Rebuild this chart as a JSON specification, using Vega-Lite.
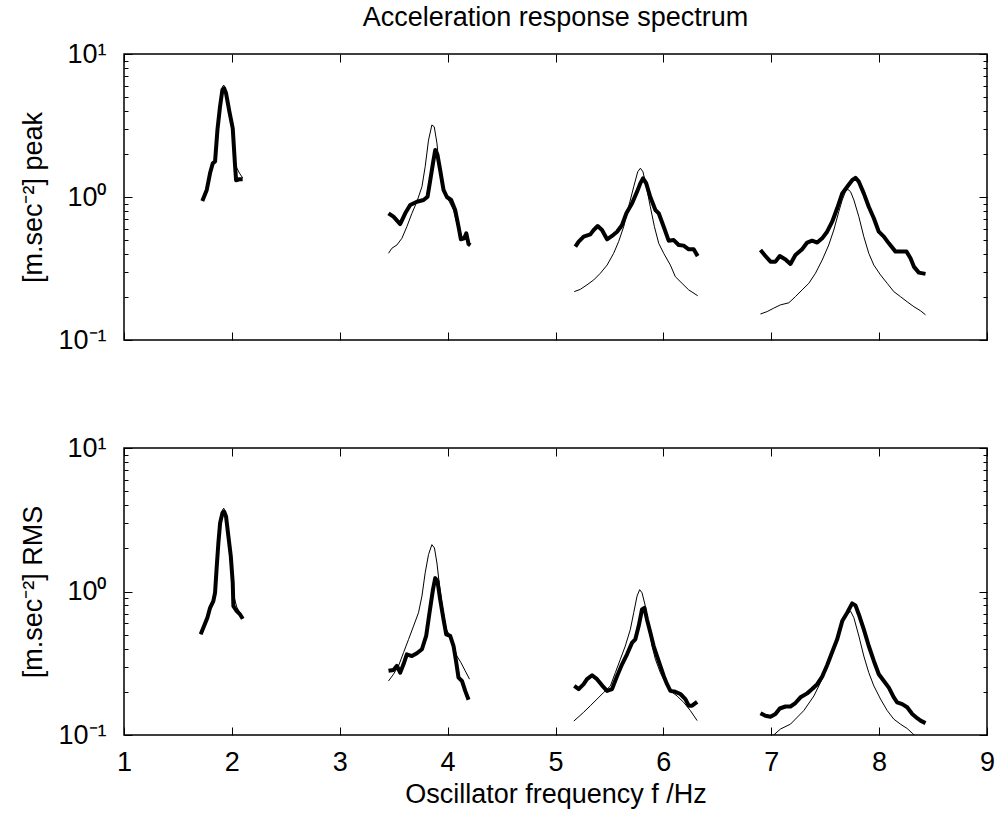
{
  "$schema": "https://vega.github.io/schema/vega-lite/v6.json",
  "autosize": {"type": "pad"},
  "padding": {"left": 19, "top": 3, "right": 14, "bottom": 10},
  "background": "white",
  "config": {
    "font": "Liberation Sans",
    "view": {"stroke": "black", "strokeWidth": 1.5},
    "axis": {"grid": false, "domain": false, "tickColor": "black", "labelColor": "black", "titleColor": "black", "labelFontSize": 27, "titleFontSize": 27, "titleFontWeight": "normal", "labelOverlap": false, "labelFlush": false, "tickWidth": 1}
  },
  "datasets": {
    "peakThick": [
      {"s":1,"f":1.726,"a":0.937},{"s":1,"f":1.767,"a":1.12},{"s":1,"f":1.798,"a":1.47},{"s":1,"f":1.823,"a":1.72},{"s":1,"f":1.844,"a":1.77},{"s":1,"f":1.866,"a":2.94},{"s":1,"f":1.89,"a":4.28},{"s":1,"f":1.912,"a":5.6},{"s":1,"f":1.928,"a":5.76},{"s":1,"f":1.946,"a":5.31},{"s":1,"f":1.977,"a":3.95},{"s":1,"f":2.008,"a":3.02},{"s":1,"f":2.03,"a":1.63},{"s":1,"f":2.039,"a":1.31},{"s":1,"f":2.07,"a":1.33},{"s":1,"f":2.1,"a":1.33},
      {"s":2,"f":3.452,"a":0.769},{"s":2,"f":3.498,"a":0.728},{"s":2,"f":3.56,"a":0.647},{"s":2,"f":3.607,"a":0.769},{"s":2,"f":3.653,"a":0.879},{"s":2,"f":3.715,"a":0.927},{"s":2,"f":3.777,"a":0.953},{"s":2,"f":3.814,"a":1.005},{"s":2,"f":3.839,"a":1.31},{"s":2,"f":3.864,"a":1.72},{"s":2,"f":3.885,"a":2.13},{"s":2,"f":3.906,"a":1.97},{"s":2,"f":3.931,"a":1.54},{"s":2,"f":3.962,"a":1.12},{"s":2,"f":3.993,"a":1.0},{"s":2,"f":4.033,"a":0.953},{"s":2,"f":4.07,"a":0.811},{"s":2,"f":4.101,"a":0.62},{"s":2,"f":4.123,"a":0.506},{"s":2,"f":4.154,"a":0.514},{"s":2,"f":4.173,"a":0.557},{"s":2,"f":4.194,"a":0.469},{"s":2,"f":4.21,"a":0.459},
      {"s":3,"f":5.184,"a":0.449},{"s":3,"f":5.215,"a":0.487},{"s":3,"f":5.261,"a":0.528},{"s":3,"f":5.323,"a":0.548},{"s":3,"f":5.354,"a":0.588},{"s":3,"f":5.391,"a":0.627},{"s":3,"f":5.431,"a":0.588},{"s":3,"f":5.478,"a":0.506},{"s":3,"f":5.524,"a":0.534},{"s":3,"f":5.571,"a":0.572},{"s":3,"f":5.617,"a":0.637},{"s":3,"f":5.657,"a":0.769},{"s":3,"f":5.71,"a":0.904},{"s":3,"f":5.756,"a":1.09},{"s":3,"f":5.787,"a":1.25},{"s":3,"f":5.811,"a":1.35},{"s":3,"f":5.84,"a":1.25},{"s":3,"f":5.879,"a":1.0},{"s":3,"f":5.926,"a":0.811},{"s":3,"f":5.957,"a":0.769},{"s":3,"f":6.003,"a":0.62},{"s":3,"f":6.049,"a":0.495},{"s":3,"f":6.096,"a":0.5},{"s":3,"f":6.142,"a":0.462},{"s":3,"f":6.188,"a":0.457},{"s":3,"f":6.235,"a":0.431},{"s":3,"f":6.281,"a":0.431},{"s":3,"f":6.318,"a":0.386},
      {"s":4,"f":6.9,"a":0.426},{"s":4,"f":6.946,"a":0.387},{"s":4,"f":6.993,"a":0.353},{"s":4,"f":7.039,"a":0.353},{"s":4,"f":7.079,"a":0.387},{"s":4,"f":7.132,"a":0.366},{"s":4,"f":7.178,"a":0.34},{"s":4,"f":7.224,"a":0.393},{"s":4,"f":7.286,"a":0.431},{"s":4,"f":7.333,"a":0.48},{"s":4,"f":7.379,"a":0.495},{"s":4,"f":7.426,"a":0.48},{"s":4,"f":7.472,"a":0.514},{"s":4,"f":7.518,"a":0.572},{"s":4,"f":7.565,"a":0.672},{"s":4,"f":7.611,"a":0.834},{"s":4,"f":7.658,"a":1.06},{"s":4,"f":7.704,"a":1.18},{"s":4,"f":7.75,"a":1.31},{"s":4,"f":7.781,"a":1.36},{"s":4,"f":7.812,"a":1.28},{"s":4,"f":7.858,"a":1.06},{"s":4,"f":7.904,"a":0.855},{"s":4,"f":7.951,"a":0.71},{"s":4,"f":7.997,"a":0.572},{"s":4,"f":8.044,"a":0.528},{"s":4,"f":8.09,"a":0.474},{"s":4,"f":8.152,"a":0.415},{"s":4,"f":8.198,"a":0.415},{"s":4,"f":8.254,"a":0.415},{"s":4,"f":8.291,"a":0.373},{"s":4,"f":8.322,"a":0.326},{"s":4,"f":8.368,"a":0.296},{"s":4,"f":8.43,"a":0.29}
    ],
    "peakThin": [
      {"s":1,"f":1.726,"a":0.94},{"s":1,"f":1.767,"a":1.12},{"s":1,"f":1.798,"a":1.47},{"s":1,"f":1.823,"a":1.72},{"s":1,"f":1.844,"a":1.8},{"s":1,"f":1.866,"a":3.0},{"s":1,"f":1.89,"a":4.5},{"s":1,"f":1.912,"a":5.9},{"s":1,"f":1.925,"a":6.07},{"s":1,"f":1.94,"a":5.6},{"s":1,"f":1.977,"a":4.0},{"s":1,"f":2.008,"a":3.0},{"s":1,"f":2.03,"a":1.75},{"s":1,"f":2.045,"a":1.6},{"s":1,"f":2.07,"a":1.47},{"s":1,"f":2.1,"a":1.36},
      {"s":2,"f":3.452,"a":0.404},{"s":2,"f":3.483,"a":0.438},{"s":2,"f":3.53,"a":0.462},{"s":2,"f":3.576,"a":0.514},{"s":2,"f":3.622,"a":0.62},{"s":2,"f":3.669,"a":0.769},{"s":2,"f":3.715,"a":0.927},{"s":2,"f":3.762,"a":1.18},{"s":2,"f":3.792,"a":1.63},{"s":2,"f":3.823,"a":2.5},{"s":2,"f":3.854,"a":3.19},{"s":2,"f":3.876,"a":3.1},{"s":2,"f":3.901,"a":2.38},{"s":2,"f":3.925,"a":1.54},{"s":2,"f":3.962,"a":1.12},{"s":2,"f":4.008,"a":0.953},{"s":2,"f":4.055,"a":0.811},{"s":2,"f":4.086,"a":0.655},{"s":2,"f":4.11,"a":0.557},{"s":2,"f":4.148,"a":0.514},{"s":2,"f":4.179,"a":0.5},{"s":2,"f":4.21,"a":0.474},
      {"s":3,"f":5.174,"a":0.218},{"s":3,"f":5.23,"a":0.226},{"s":3,"f":5.292,"a":0.243},{"s":3,"f":5.354,"a":0.263},{"s":3,"f":5.416,"a":0.293},{"s":3,"f":5.478,"a":0.334},{"s":3,"f":5.539,"a":0.404},{"s":3,"f":5.585,"a":0.487},{"s":3,"f":5.632,"a":0.62},{"s":3,"f":5.678,"a":0.855},{"s":3,"f":5.725,"a":1.18},{"s":3,"f":5.762,"a":1.5},{"s":3,"f":5.787,"a":1.59},{"s":3,"f":5.811,"a":1.5},{"s":3,"f":5.842,"a":1.18},{"s":3,"f":5.879,"a":0.855},{"s":3,"f":5.917,"a":0.62},{"s":3,"f":5.957,"a":0.474},{"s":3,"f":6.003,"a":0.404},{"s":3,"f":6.065,"a":0.334},{"s":3,"f":6.111,"a":0.277},{"s":3,"f":6.173,"a":0.249},{"s":3,"f":6.235,"a":0.224},{"s":3,"f":6.318,"a":0.204},
      {"s":4,"f":6.9,"a":0.152},{"s":4,"f":6.962,"a":0.158},{"s":4,"f":7.023,"a":0.167},{"s":4,"f":7.085,"a":0.176},{"s":4,"f":7.163,"a":0.182},{"s":4,"f":7.224,"a":0.201},{"s":4,"f":7.286,"a":0.224},{"s":4,"f":7.348,"a":0.249},{"s":4,"f":7.41,"a":0.293},{"s":4,"f":7.472,"a":0.362},{"s":4,"f":7.533,"a":0.462},{"s":4,"f":7.58,"a":0.588},{"s":4,"f":7.626,"a":0.789},{"s":4,"f":7.658,"a":0.953},{"s":4,"f":7.688,"a":1.09},{"s":4,"f":7.71,"a":1.13},{"s":4,"f":7.735,"a":1.09},{"s":4,"f":7.766,"a":0.953},{"s":4,"f":7.812,"a":0.728},{"s":4,"f":7.858,"a":0.528},{"s":4,"f":7.904,"a":0.404},{"s":4,"f":7.951,"a":0.334},{"s":4,"f":8.013,"a":0.285},{"s":4,"f":8.075,"a":0.249},{"s":4,"f":8.136,"a":0.218},{"s":4,"f":8.198,"a":0.201},{"s":4,"f":8.26,"a":0.185},{"s":4,"f":8.322,"a":0.171},{"s":4,"f":8.384,"a":0.16},{"s":4,"f":8.43,"a":0.15}
    ],
    "rmsThick": [
      {"s":1,"f":1.711,"a":0.503},{"s":1,"f":1.742,"a":0.574},{"s":1,"f":1.773,"a":0.656},{"s":1,"f":1.798,"a":0.77},{"s":1,"f":1.828,"a":0.857},{"s":1,"f":1.844,"a":0.98},{"s":1,"f":1.86,"a":1.5},{"s":1,"f":1.875,"a":2.18},{"s":1,"f":1.891,"a":3.0},{"s":1,"f":1.912,"a":3.52},{"s":1,"f":1.928,"a":3.61},{"s":1,"f":1.946,"a":3.33},{"s":1,"f":1.968,"a":2.42},{"s":1,"f":1.99,"a":1.76},{"s":1,"f":2.008,"a":1.15},{"s":1,"f":2.014,"a":0.79},{"s":1,"f":2.045,"a":0.73},{"s":1,"f":2.076,"a":0.692},{"s":1,"f":2.101,"a":0.646},
      {"s":2,"f":3.452,"a":0.28},{"s":2,"f":3.498,"a":0.284},{"s":2,"f":3.53,"a":0.303},{"s":2,"f":3.56,"a":0.272},{"s":2,"f":3.591,"a":0.311},{"s":2,"f":3.622,"a":0.365},{"s":2,"f":3.669,"a":0.355},{"s":2,"f":3.715,"a":0.371},{"s":2,"f":3.762,"a":0.396},{"s":2,"f":3.801,"a":0.49},{"s":2,"f":3.832,"a":0.711},{"s":2,"f":3.864,"a":1.03},{"s":2,"f":3.885,"a":1.24},{"s":2,"f":3.906,"a":1.18},{"s":2,"f":3.931,"a":0.88},{"s":2,"f":3.962,"a":0.639},{"s":2,"f":3.987,"a":0.503},{"s":2,"f":4.024,"a":0.49},{"s":2,"f":4.055,"a":0.417},{"s":2,"f":4.08,"a":0.32},{"s":2,"f":4.101,"a":0.251},{"s":2,"f":4.133,"a":0.238},{"s":2,"f":4.163,"a":0.203},{"s":2,"f":4.194,"a":0.176},
      {"s":3,"f":5.174,"a":0.22},{"s":3,"f":5.215,"a":0.209},{"s":3,"f":5.261,"a":0.226},{"s":3,"f":5.292,"a":0.245},{"s":3,"f":5.339,"a":0.261},{"s":3,"f":5.385,"a":0.245},{"s":3,"f":5.431,"a":0.222},{"s":3,"f":5.478,"a":0.203},{"s":3,"f":5.524,"a":0.209},{"s":3,"f":5.571,"a":0.258},{"s":3,"f":5.617,"a":0.311},{"s":3,"f":5.663,"a":0.365},{"s":3,"f":5.71,"a":0.44},{"s":3,"f":5.74,"a":0.464},{"s":3,"f":5.771,"a":0.574},{"s":3,"f":5.802,"a":0.75},{"s":3,"f":5.824,"a":0.77},{"s":3,"f":5.848,"a":0.639},{"s":3,"f":5.879,"a":0.517},{"s":3,"f":5.91,"a":0.417},{"s":3,"f":5.941,"a":0.355},{"s":3,"f":5.972,"a":0.303},{"s":3,"f":6.003,"a":0.258},{"s":3,"f":6.034,"a":0.226},{"s":3,"f":6.065,"a":0.203},{"s":3,"f":6.111,"a":0.2},{"s":3,"f":6.158,"a":0.193},{"s":3,"f":6.204,"a":0.178},{"s":3,"f":6.235,"a":0.16},{"s":3,"f":6.266,"a":0.16},{"s":3,"f":6.313,"a":0.17},
      {"s":4,"f":6.9,"a":0.142},{"s":4,"f":6.946,"a":0.136},{"s":4,"f":6.993,"a":0.134},{"s":4,"f":7.039,"a":0.14},{"s":4,"f":7.079,"a":0.153},{"s":4,"f":7.132,"a":0.158},{"s":4,"f":7.178,"a":0.158},{"s":4,"f":7.224,"a":0.167},{"s":4,"f":7.271,"a":0.183},{"s":4,"f":7.333,"a":0.195},{"s":4,"f":7.379,"a":0.209},{"s":4,"f":7.426,"a":0.226},{"s":4,"f":7.472,"a":0.255},{"s":4,"f":7.518,"a":0.306},{"s":4,"f":7.565,"a":0.379},{"s":4,"f":7.611,"a":0.464},{"s":4,"f":7.658,"a":0.622},{"s":4,"f":7.704,"a":0.711},{"s":4,"f":7.75,"a":0.826},{"s":4,"f":7.781,"a":0.8},{"s":4,"f":7.812,"a":0.692},{"s":4,"f":7.858,"a":0.545},{"s":4,"f":7.904,"a":0.417},{"s":4,"f":7.951,"a":0.328},{"s":4,"f":7.997,"a":0.265},{"s":4,"f":8.044,"a":0.238},{"s":4,"f":8.09,"a":0.214},{"s":4,"f":8.136,"a":0.183},{"s":4,"f":8.167,"a":0.169},{"s":4,"f":8.214,"a":0.164},{"s":4,"f":8.26,"a":0.156},{"s":4,"f":8.307,"a":0.14},{"s":4,"f":8.353,"a":0.131},{"s":4,"f":8.384,"a":0.126},{"s":4,"f":8.43,"a":0.121}
    ],
    "rmsThin": [
      {"s":1,"f":1.711,"a":0.503},{"s":1,"f":1.742,"a":0.574},{"s":1,"f":1.773,"a":0.656},{"s":1,"f":1.798,"a":0.77},{"s":1,"f":1.828,"a":0.857},{"s":1,"f":1.844,"a":1.0},{"s":1,"f":1.86,"a":1.55},{"s":1,"f":1.875,"a":2.3},{"s":1,"f":1.891,"a":3.2},{"s":1,"f":1.912,"a":3.7},{"s":1,"f":1.925,"a":3.81},{"s":1,"f":1.946,"a":3.4},{"s":1,"f":1.968,"a":2.5},{"s":1,"f":1.99,"a":1.8},{"s":1,"f":2.008,"a":1.2},{"s":1,"f":2.02,"a":0.92},{"s":1,"f":2.045,"a":0.78},{"s":1,"f":2.076,"a":0.71},{"s":1,"f":2.101,"a":0.65},
      {"s":2,"f":3.452,"a":0.238},{"s":2,"f":3.498,"a":0.265},{"s":2,"f":3.545,"a":0.303},{"s":2,"f":3.591,"a":0.375},{"s":2,"f":3.638,"a":0.464},{"s":2,"f":3.684,"a":0.574},{"s":2,"f":3.73,"a":0.711},{"s":2,"f":3.762,"a":0.929},{"s":2,"f":3.792,"a":1.35},{"s":2,"f":3.823,"a":1.81},{"s":2,"f":3.854,"a":2.12},{"s":2,"f":3.878,"a":2.01},{"s":2,"f":3.901,"a":1.58},{"s":2,"f":3.925,"a":1.09},{"s":2,"f":3.956,"a":0.75},{"s":2,"f":3.987,"a":0.545},{"s":2,"f":4.024,"a":0.49},{"s":2,"f":4.055,"a":0.417},{"s":2,"f":4.086,"a":0.355},{"s":2,"f":4.123,"a":0.32},{"s":2,"f":4.163,"a":0.28},{"s":2,"f":4.203,"a":0.245},
      {"s":3,"f":5.17,"a":0.125},{"s":3,"f":5.261,"a":0.144},{"s":3,"f":5.323,"a":0.16},{"s":3,"f":5.385,"a":0.178},{"s":3,"f":5.447,"a":0.198},{"s":3,"f":5.509,"a":0.22},{"s":3,"f":5.555,"a":0.272},{"s":3,"f":5.601,"a":0.337},{"s":3,"f":5.647,"a":0.417},{"s":3,"f":5.694,"a":0.545},{"s":3,"f":5.725,"a":0.711},{"s":3,"f":5.756,"a":0.929},{"s":3,"f":5.78,"a":1.03},{"s":3,"f":5.802,"a":0.98},{"s":3,"f":5.833,"a":0.79},{"s":3,"f":5.864,"a":0.574},{"s":3,"f":5.895,"a":0.417},{"s":3,"f":5.926,"a":0.337},{"s":3,"f":5.972,"a":0.272},{"s":3,"f":6.019,"a":0.232},{"s":3,"f":6.065,"a":0.203},{"s":3,"f":6.127,"a":0.187},{"s":3,"f":6.188,"a":0.169},{"s":3,"f":6.25,"a":0.148},{"s":3,"f":6.313,"a":0.126},
      {"s":4,"f":6.9,"a":0.085},{"s":4,"f":6.96,"a":0.092},{"s":4,"f":7.023,"a":0.1},{"s":4,"f":7.085,"a":0.11},{"s":4,"f":7.178,"a":0.119},{"s":4,"f":7.302,"a":0.148},{"s":4,"f":7.395,"a":0.187},{"s":4,"f":7.472,"a":0.245},{"s":4,"f":7.533,"a":0.32},{"s":4,"f":7.595,"a":0.428},{"s":4,"f":7.641,"a":0.574},{"s":4,"f":7.688,"a":0.674},{"s":4,"f":7.735,"a":0.73},{"s":4,"f":7.766,"a":0.656},{"s":4,"f":7.812,"a":0.49},{"s":4,"f":7.858,"a":0.355},{"s":4,"f":7.904,"a":0.272},{"s":4,"f":7.951,"a":0.22},{"s":4,"f":8.013,"a":0.178},{"s":4,"f":8.075,"a":0.148},{"s":4,"f":8.136,"a":0.129},{"s":4,"f":8.198,"a":0.119},{"s":4,"f":8.26,"a":0.111},{"s":4,"f":8.307,"a":0.103},{"s":4,"f":8.35,"a":0.096},{"s":4,"f":8.43,"a":0.088}
    ]
  },
  "vconcat": [
    {
      "width": 863,
      "height": 286,
      "title": {"text": "Acceleration response spectrum", "fontSize": 27, "fontWeight": "normal", "anchor": "middle", "frame": "group", "offset": 8, "color": "black"},
      "layer": [
        {
          "data": {"name": "peakThick"},
          "mark": {"type": "line", "color": "black", "strokeWidth": 4, "strokeJoin": "round", "clip": true},
          "encoding": {
            "x": {"field": "f", "type": "quantitative", "scale": {"domain": [1, 9], "nice": false, "zero": false},
                  "axis": {"orient": "bottom", "values": [1,2,3,4,5,6,7,8,9], "labels": false, "tickSize": -8, "title": null}},
            "y": {"field": "a", "type": "quantitative", "scale": {"type": "log", "domain": [0.1, 10], "nice": false},
                  "axis": {"orient": "left", "values": [0.1,0.2,0.3,0.4,0.5,0.6,0.7,0.8,0.9,1,2,3,4,5,6,7,8,9,10],
                           "labelExpr": "abs(datum.value-10)<1e-6 ? '10¹' : abs(datum.value-1)<1e-6 ? '10⁰' : abs(datum.value-0.1)<1e-6 ? '10⁻¹' : ''",
                           "tickSize": {"condition": {"test": "abs(datum.value-10)<1e-6 || abs(datum.value-1)<1e-6 || abs(datum.value-0.1)<1e-6", "value": -8}, "value": -4},
                           "labelPadding": 26, "title": "[m.sec⁻²] peak", "titlePadding": 10}},
            "detail": {"field": "s", "type": "nominal"}
          }
        },
        {
          "data": {"name": "peakThin"},
          "mark": {"type": "line", "color": "black", "strokeWidth": 1, "clip": true},
          "encoding": {
            "x": {"field": "f", "type": "quantitative", "scale": {"domain": [1, 9], "nice": false, "zero": false},
                  "axis": {"orient": "top", "values": [1,2,3,4,5,6,7,8,9], "labels": false, "tickSize": -8, "title": null}},
            "y": {"field": "a", "type": "quantitative", "scale": {"type": "log", "domain": [0.1, 10], "nice": false},
                  "axis": {"orient": "right", "values": [0.1,0.2,0.3,0.4,0.5,0.6,0.7,0.8,0.9,1,2,3,4,5,6,7,8,9,10], "labels": false,
                           "tickSize": {"condition": {"test": "abs(datum.value-10)<1e-6 || abs(datum.value-1)<1e-6 || abs(datum.value-0.1)<1e-6", "value": -8}, "value": -4},
                           "title": null}},
            "detail": {"field": "s", "type": "nominal"}
          }
        }
      ],
      "resolve": {"axis": {"x": "independent", "y": "independent"}}
    },
    {
      "width": 863,
      "height": 287,
      "layer": [
        {
          "data": {"name": "rmsThick"},
          "mark": {"type": "line", "color": "black", "strokeWidth": 4, "strokeJoin": "round", "clip": true},
          "encoding": {
            "x": {"field": "f", "type": "quantitative", "scale": {"domain": [1, 9], "nice": false, "zero": false},
                  "axis": {"orient": "bottom", "values": [1,2,3,4,5,6,7,8,9], "tickSize": -8, "labelPadding": 22, "title": "Oscillator frequency f /Hz", "titlePadding": 6}},
            "y": {"field": "a", "type": "quantitative", "scale": {"type": "log", "domain": [0.1, 10], "nice": false},
                  "axis": {"orient": "left", "values": [0.1,0.2,0.3,0.4,0.5,0.6,0.7,0.8,0.9,1,2,3,4,5,6,7,8,9,10],
                           "labelExpr": "abs(datum.value-10)<1e-6 ? '10¹' : abs(datum.value-1)<1e-6 ? '10⁰' : abs(datum.value-0.1)<1e-6 ? '10⁻¹' : ''",
                           "tickSize": {"condition": {"test": "abs(datum.value-10)<1e-6 || abs(datum.value-1)<1e-6 || abs(datum.value-0.1)<1e-6", "value": -8}, "value": -4},
                           "labelPadding": 26, "title": "[m.sec⁻²] RMS", "titlePadding": 10}},
            "detail": {"field": "s", "type": "nominal"}
          }
        },
        {
          "data": {"name": "rmsThin"},
          "mark": {"type": "line", "color": "black", "strokeWidth": 1, "clip": true},
          "encoding": {
            "x": {"field": "f", "type": "quantitative", "scale": {"domain": [1, 9], "nice": false, "zero": false},
                  "axis": {"orient": "top", "values": [1,2,3,4,5,6,7,8,9], "labels": false, "tickSize": -8, "title": null}},
            "y": {"field": "a", "type": "quantitative", "scale": {"type": "log", "domain": [0.1, 10], "nice": false},
                  "axis": {"orient": "right", "values": [0.1,0.2,0.3,0.4,0.5,0.6,0.7,0.8,0.9,1,2,3,4,5,6,7,8,9,10], "labels": false,
                           "tickSize": {"condition": {"test": "abs(datum.value-10)<1e-6 || abs(datum.value-1)<1e-6 || abs(datum.value-0.1)<1e-6", "value": -8}, "value": -4},
                           "title": null}},
            "detail": {"field": "s", "type": "nominal"}
          }
        }
      ],
      "resolve": {"axis": {"x": "independent", "y": "independent"}}
    }
  ],
  "spacing": 108,
  "bounds": "flush"
}
